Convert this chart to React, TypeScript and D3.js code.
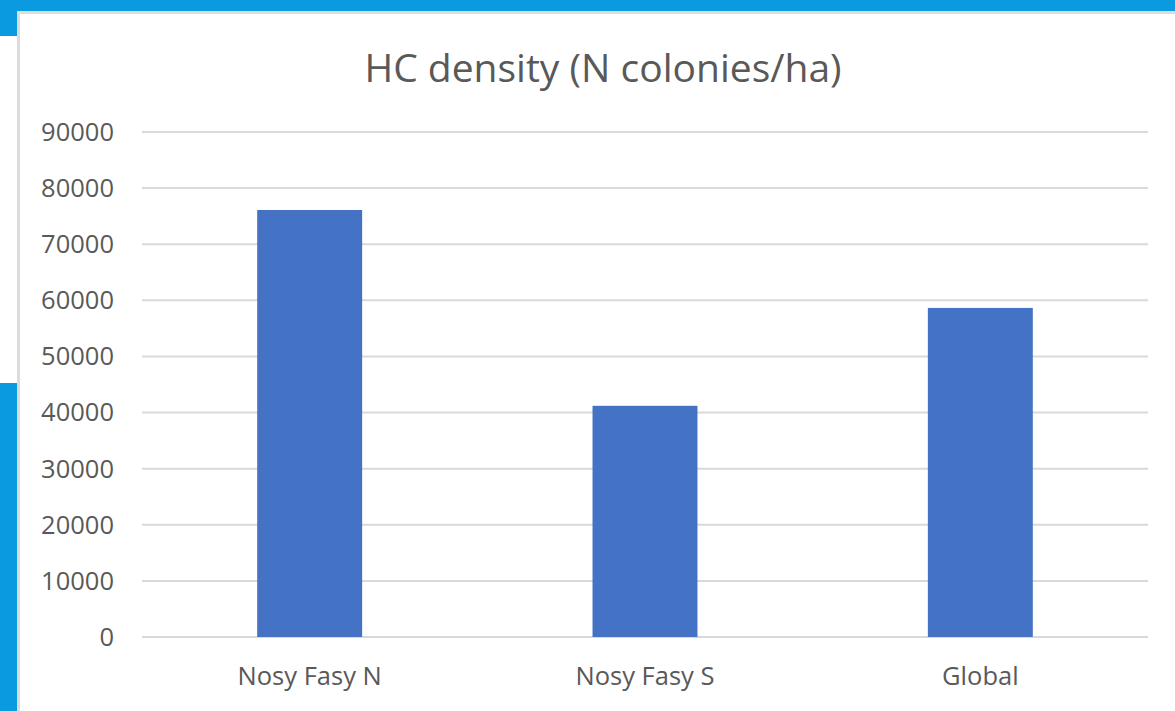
import React from "react";
import * as d3 from "d3";

const categories = ["Nosy Fasy N", "Nosy Fasy S", "Global"];
const values = [76100, 41200, 58650];
const yTicks = [0, 10000, 20000, 30000, 40000, 50000, 60000, 70000, 80000, 90000];
const title = "HC density (N colonies/ha)";

export default function App() {
  const W = 1175, H = 711;
  const left = 142, right = 1148, top = 132, bottom = 637;
  const x = d3.scaleBand<string>().domain(categories).range([left, right]).paddingInner(0.687).paddingOuter(0.3435);
  const y = d3.scaleLinear().domain([0, 90000]).range([bottom, top]);
  const font = "'Segoe UI', 'Open Sans', 'Noto Sans', sans-serif";
  return (
    <svg width={W} height={H} style={{ position: "fixed", left: 0, top: 0, display: "block" }}>
      <rect x={0} y={0} width={W} height={H} fill="#ffffff" />
      <rect x={0} y={0} width={W} height={11} fill="#0a9ae0" />
      <rect x={0} y={0} width={17} height={36} fill="#0a9ae0" />
      <rect x={0} y={383} width={17} height={H - 383} fill="#0a9ae0" />
      <rect x={17} y={11} width={W - 17} height={3} fill="#dcdcdc" />
      <rect x={17} y={11} width={3} height={H - 11} fill="#dcdcdc" />
      <text x={603} y={82} textAnchor="middle" fontFamily={font} fontSize={39} fill="#595959">{title}</text>
      {yTicks.map((t) => (
        <g key={t}>
          <line x1={left} x2={right} y1={y(t)} y2={y(t)} stroke="#d9d9d9" strokeWidth={2} />
          <text x={114} y={y(t)} dy="0.35em" textAnchor="end" fontFamily={font} fontSize={25.5} fill="#595959">{t}</text>
        </g>
      ))}
      {categories.map((c, i) => (
        <g key={c}>
          <rect x={x(c)} y={y(values[i])} width={x.bandwidth()} height={bottom - y(values[i])} fill="#4472c4" />
          <text x={(x(c) as number) + x.bandwidth() / 2} y={685} textAnchor="middle" fontFamily={font} fontSize={25.5} fill="#595959">{c}</text>
        </g>
      ))}
    </svg>
  );
}
